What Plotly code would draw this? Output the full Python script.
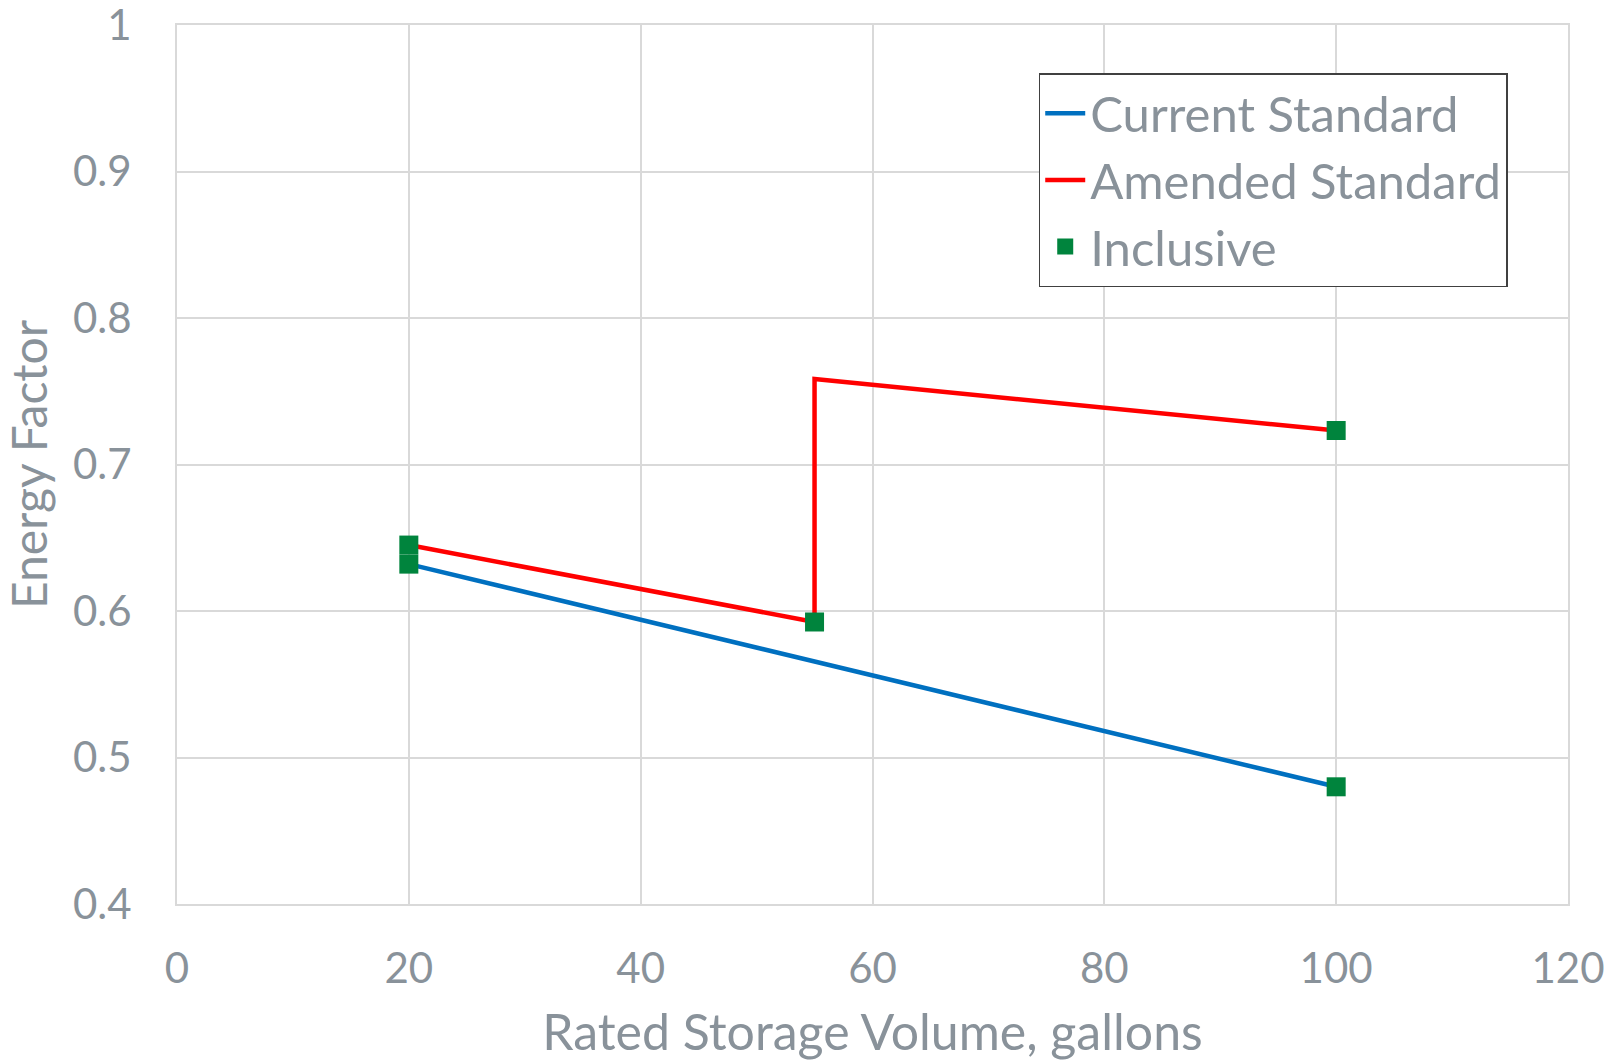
import plotly.graph_objects as go

# Data
current_x = [20, 100]
current_y = [0.632, 0.48]

amended_x = [20, 55, 55, 100]
amended_y = [0.645, 0.5925, 0.7583, 0.7232]

inclusive_x = [20, 20, 55, 100, 100]
inclusive_y = [0.632, 0.645, 0.5925, 0.7232, 0.48]

x_ticks = [0, 20, 40, 60, 80, 100, 120]
y_ticks = [0.4, 0.5, 0.6, 0.7, 0.8, 0.9, 1]
y_tick_text = ["0.4", "0.5", "0.6", "0.7", "0.8", "0.9", "1"]

FONT = "Lato"
TXT = "#89929A"
GRID = "#D9D9D9"

fig = go.Figure()
fig.add_trace(go.Scatter(x=current_x, y=current_y, mode="lines", name="Current Standard",
                         line=dict(color="#0070C0", width=4.5)))
fig.add_trace(go.Scatter(x=amended_x, y=amended_y, mode="lines", name="Amended Standard",
                         line=dict(color="#FF0000", width=4.5)))
fig.add_trace(go.Scatter(x=inclusive_x, y=inclusive_y, mode="markers", name="Inclusive",
                         marker=dict(symbol="square", size=19, color="#00843D",
                                     line=dict(width=0))))

fig.update_layout(
    width=1610, height=1061,
    margin=dict(l=177, r=42, t=25, b=157, autoexpand=False),
    paper_bgcolor="white", plot_bgcolor="white",
    font=dict(family=FONT, color=TXT, size=42),
    showlegend=True,
    legend=dict(x=0.6195, y=0.945, xanchor="left", yanchor="top",
                bgcolor="white", bordercolor="#404040", borderwidth=1.5,
                font=dict(size=49, color=TXT, family=FONT),
                tracegroupgap=0, itemwidth=40),
    xaxis=dict(range=[0, 120], tickvals=x_ticks, showgrid=True, gridcolor=GRID, gridwidth=1.5,
               zeroline=False, showline=True, linecolor=GRID, linewidth=2, mirror=True,
               ticks="", ticklabelstandoff=27, automargin=False, ticklabeloverflow="allow",
               title=dict(text="Rated Storage Volume, gallons", font=dict(size=50, color=TXT), standoff=26)),
    yaxis=dict(range=[0.4, 1], tickvals=y_ticks, ticktext=y_tick_text, showgrid=True,
               gridcolor=GRID, gridwidth=1.5,
               zeroline=False, showline=True, linecolor=GRID, linewidth=2, mirror=True,
               ticks="", ticklabelstandoff=35, automargin=False, ticklabeloverflow="allow",
               title=dict(text="Energy Factor", font=dict(size=48, color=TXT), standoff=24)),
)

fig.write_html("out.html", config={"displayModeBar": False})

# remove the default 8px body margin of the browser so the figure fills the window exactly
with open("out.html", "r", encoding="utf-8") as f:
    html = f.read()
html = html.replace("<head>", "<head><style>html,body{margin:0;padding:0;}</style>", 1)
with open("out.html", "w", encoding="utf-8") as f:
    f.write(html)
